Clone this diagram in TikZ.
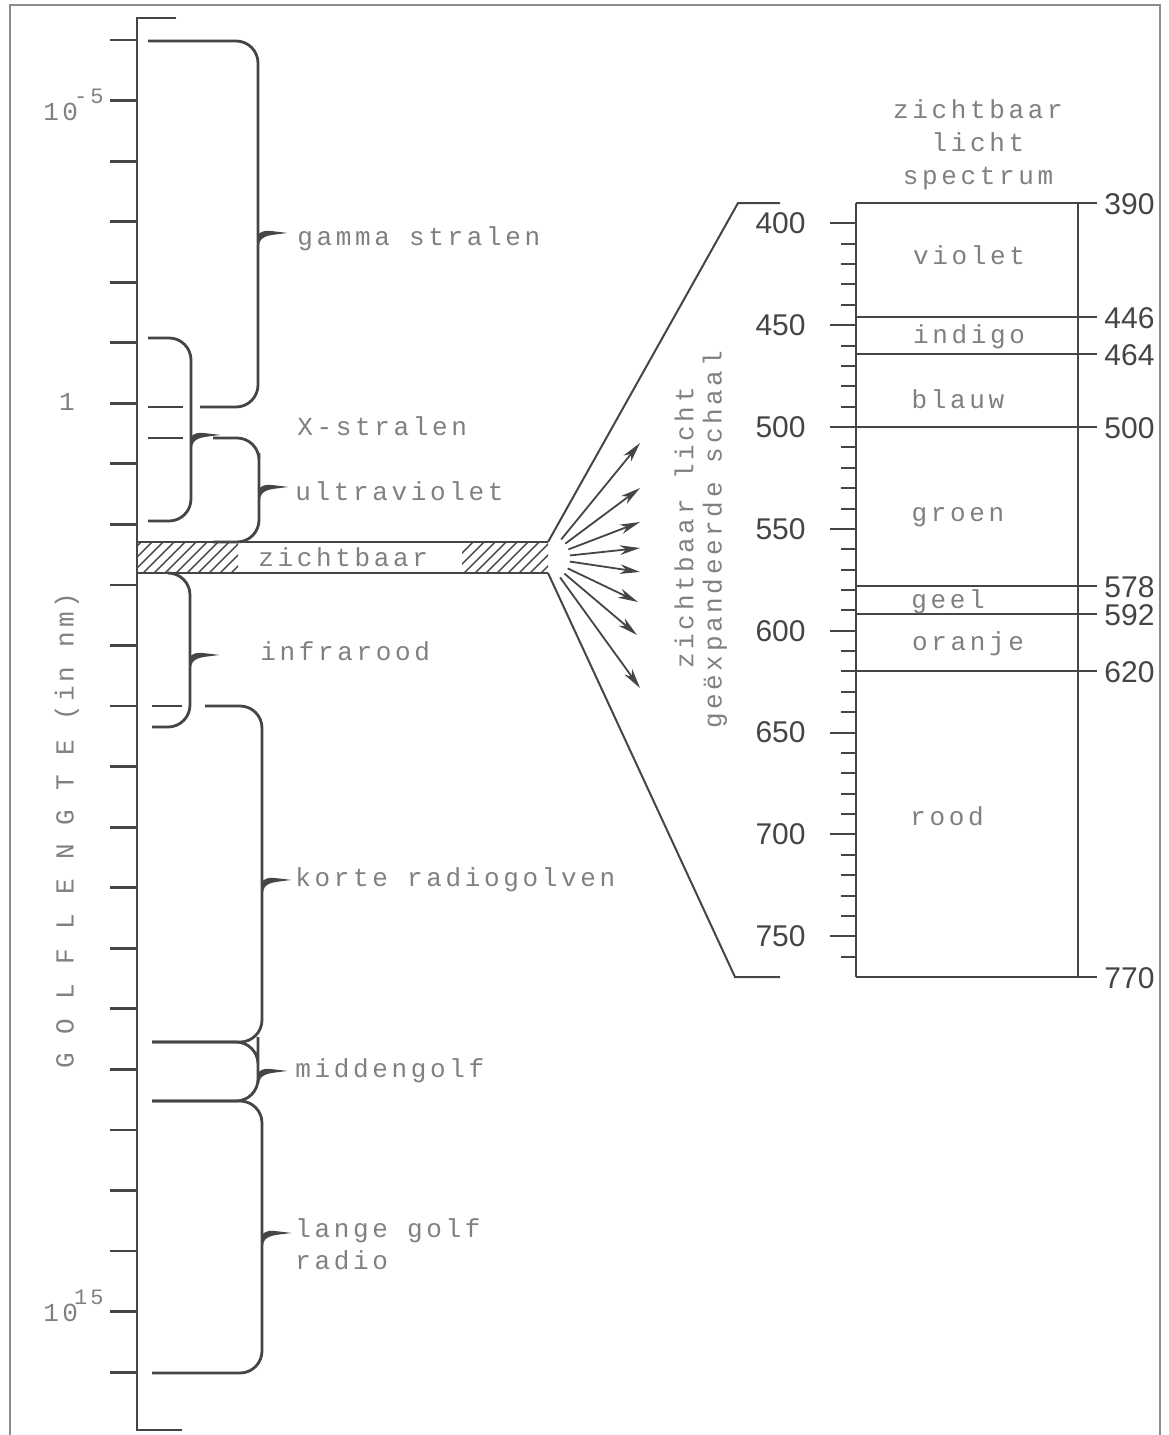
\documentclass[tikz,border=0pt]{standalone}
\usepackage{fontspec}
\setmainfont{Liberation Serif}
\newfontfamily\tw[LetterSpace=14]{Liberation Mono}
\newfontfamily\nf{Liberation Sans}
\usetikzlibrary{arrows.meta,calc}
\definecolor{ink}{gray}{0.27}
\definecolor{txt}{gray}{0.5}
\definecolor{frm}{gray}{0.55}
\newcommand\brc[6]{\draw[ln,rounded corners=11] (#1,#2) -- (#5,#2) -- (#5,#6-12) [sharp corners] .. controls (#5,#6-3) and (#5+9,#6-1) .. (#5+18,#6) .. controls (#5+9,#6+1) and (#5,#6+3) .. (#5,#6+12) [rounded corners=11] -- (#5,#4) -- (#3,#4);}
\newcommand\wy[1]{203+(#1-390)*2.0368}
\begin{document}
\begin{tikzpicture}[x=0.5pt,y=-0.5pt,
  ln/.style={draw=ink,line width=1.4pt},
  tln/.style={draw=ink,line width=1pt},
  lab/.style={text=txt,font=\tw\fontsize{13}{15}\selectfont,inner sep=0pt},
  num/.style={text=ink,font=\nf\fontsize{15}{17}\selectfont,inner sep=0pt},
  arr/.style={draw=ink,line width=0.9pt,-{Stealth[length=10pt,width=4.8pt,inset=3pt]}},
]
\useasboundingbox (0,0) rectangle (1168,1435);
% frame
\draw[frm,line width=1.1pt] (10,1435) -- (10,5) -- (1160,5) -- (1160,1435);
% main axis
\draw[ln] (176,18) -- (137,18) -- (137,1430) -- (182,1430);
\foreach \i in {0,...,22} \draw[ln] (110,{40+60.55*\i}) -- (137,{40+60.55*\i});
% axis labels
\node[lab,anchor=base east] (l5) at (104,120) {10\hspace{-2pt}\raisebox{1.2ex}{\fontsize{11}{11}\selectfont -5}};
\node[lab] (l0) at (67,402) {1};
\node[lab,anchor=base east] (l15) at (104,1321) {10\hspace{-2pt}\raisebox{1.2ex}{\fontsize{11}{11}\selectfont 15}};
\node[lab,rotate=90] (gl) at (67,831) {G O L F L E N G T E (in nm)};
% braces
\brc{148}{41}{200}{407}{258}{233}
\draw[ln] (148,407) -- (183,407);
\brc{148}{338}{148}{521}{191}{435}
\brc{213}{438}{213}{542}{259}{487}
\draw[ln] (148,438) -- (183,438);
\brc{170}{573}{152}{727}{190}{655}
\brc{205}{706}{152}{1042}{262}{880}
\draw[ln] (152,706) -- (182,706);
\brc{152}{1042}{152}{1101}{258}{1071}
\brc{152}{1101}{152}{1373}{262}{1233}
% visible band
\draw[ln] (137,542) -- (548,542);
\draw[ln] (137,573) -- (548,573);
\begin{scope}
\clip (137,542) rectangle (238,573);
\foreach \h in {110,121,...,250} \draw[ink,line width=0.7pt] (\h,573) -- (\h+31,542);
\end{scope}
\begin{scope}
\clip (462,542) rectangle (548,573);
\foreach \h in {420,431,...,560} \draw[ink,line width=0.7pt] (\h,573) -- (\h+31,542);
\end{scope}
% labels
\node[lab,anchor=mid west] (gam) at (297,241) {gamma stralen};
\node[lab,anchor=mid west] (xs) at (297,431) {X-stralen};
\node[lab,anchor=mid west] (uv) at (295,496) {ultraviolet};
\node[lab,anchor=mid west] (zb) at (258,562) {zichtbaar};
\node[lab,anchor=mid west] (ir) at (260,656) {infrarood};
\node[lab,anchor=mid west] (kr) at (295,882) {korte radiogolven};
\node[lab,anchor=mid west] (mg) at (295,1073) {middengolf};
\node[lab,anchor=mid west] (lg) at (295,1233) {lange golf};
\node[lab,anchor=mid west] (rd) at (295,1265) {radio};
% expansion lines
\coordinate (bt) at (548,542);
\coordinate (bb) at (548,573);
\draw[tln] (bt) -- (738,203) -- (780,203);
\draw[tln] (bb) -- (735,977) -- (780,977);
% fan of arrows
\coordinate (fan) at (546,558);
\foreach \ex/\ey [count=\k] in {640/443,640/488,640/522,640/548,640/572,638/602,637/635,640/688} {
  \coordinate (e\k) at (\ex,\ey);
  \draw[arr] ($(fan)!12pt!(e\k)$) -- (e\k);
}
% rotated labels
\node[lab,rotate=90] (zl) at (684,528) {zichtbaar licht};
\node[lab,rotate=90] (gs) at (715,540) {geëxpandeerde schaal};
% scale
\foreach \l in {400,410,...,760} {
  \pgfmathsetmacro\yy{\wy{\l}}
  \pgfmathtruncatemacro\mm{mod(\l,50)}
  \ifnum\mm=0 \draw[tln] (830,\yy) -- (856,\yy); \else \draw[tln] (841,\yy) -- (856,\yy); \fi
}
\foreach \l in {400,450,...,750} \node[num,anchor=east] at (806,{\wy{\l}}) {\l};
% spectrum box
\draw[tln] (856,203) -- (856,977);
\draw[tln] (1078,203) -- (1078,977);
\foreach \l in {390,446,464,500,578,592,620,770} {
  \draw[tln] (856,{\wy{\l}}) -- (1097,{\wy{\l}});
  \node[num,anchor=west] at (1104,{\wy{\l}+1}) {\l};
}
% top label
\node[lab,anchor=mid] (t1) at (978,114) {zichtbaar};
\node[lab,anchor=mid] (t2) at (978,147) {licht};
\node[lab,anchor=mid] (t3) at (978,180) {spectrum};
% colour names
\node[lab,anchor=mid] (cv) at (969,260) {violet};
\node[lab,anchor=mid] (ci) at (969,339) {indigo};
\node[lab,anchor=mid] (cb) at (958,404) {blauw};
\node[lab,anchor=mid] (cg) at (958,517) {groen};
\node[lab,anchor=mid] (cy) at (948,604) {geel};
\node[lab,anchor=mid] (co) at (968,646) {oranje};
\node[lab,anchor=mid] (cr) at (947,821) {rood};
\end{tikzpicture}
\end{document}
